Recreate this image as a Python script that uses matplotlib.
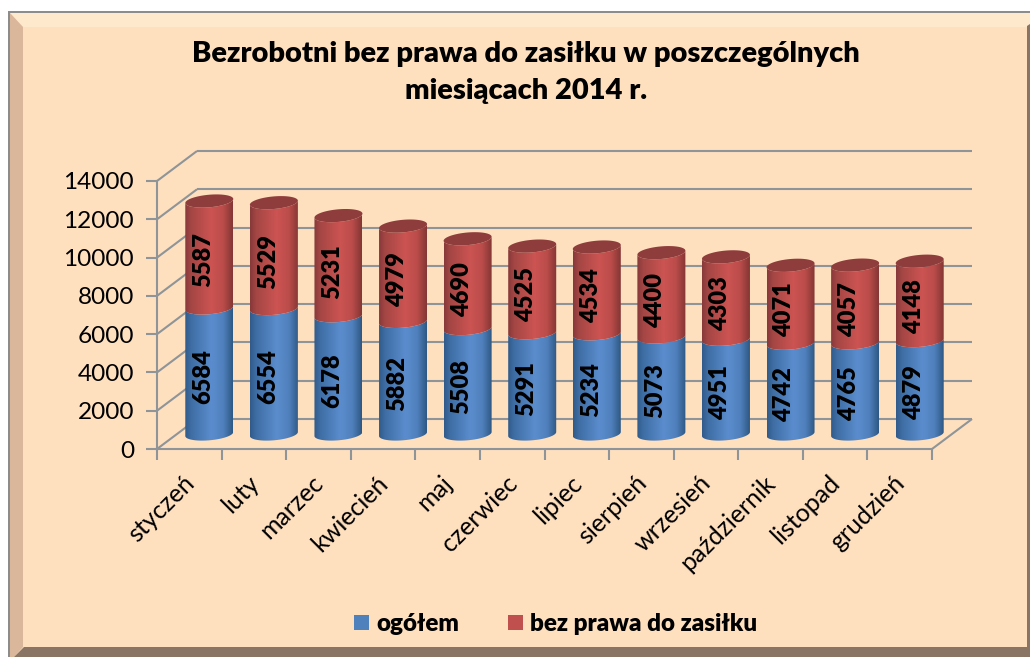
import numpy as np
import matplotlib
matplotlib.use("Agg")
import matplotlib.pyplot as plt
from matplotlib.colors import LinearSegmentedColormap
from matplotlib.patches import Polygon, Patch
from matplotlib.path import Path
from matplotlib.transforms import ScaledTranslation

months = ["styczeń", "luty", "marzec", "kwiecień", "maj", "czerwiec", "lipiec",
          "sierpień", "wrzesień", "październik", "listopad", "grudzień"]
total = [6584, 6554, 6178, 5882, 5508, 5291, 5234, 5073, 4951, 4742, 4765, 4879]
no_benefit = [5587, 5529, 5231, 4979, 4690, 4525, 4534, 4400, 4303, 4071, 4057, 4148]
yticks = [0, 2000, 4000, 6000, 8000, 10000, 12000, 14000]
series_names = ["ogółem", "bez prawa do zasiłku"]
title = "Bezrobotni bez prawa do zasiłku w poszczególnych\nmiesiącach 2014 r."

W, H = 1030, 657
BG = "#FEE0BF"
GRID = "#8E9498"
plt.rcParams["font.family"] = ["Lato", "DejaVu Sans"]

fig = plt.figure(figsize=(W / 100, H / 100), dpi=100, facecolor="white")


def fx(x):
    return x / W


def fy(y):
    return 1 - y / H


def fig_poly(points, color, z=0):
    fig.add_artist(Polygon([(fx(x), fy(y)) for x, y in points], closed=True, facecolor=color,
                           edgecolor="none", transform=fig.transFigure, zorder=z))


# outer frame
fig_poly([(8, 11), (1030, 11), (1030, 657), (8, 657)], "#8C8C8C", 0.1)
fig_poly([(10, 13), (1030, 13), (1030, 657), (10, 657)], BG, 0.2)
fig_poly([(1027, 26), (1030, 24), (1030, 657), (1027, 657)], "#8A7565", 0.4)
fig_poly([(14, 657), (24, 647), (1030, 647), (1030, 657)], "#8A7565", 0.4)
fig_poly([(10, 13), (1030, 13), (1030, 24), (1027, 27), (23, 27)], "#FFE9CC", 0.3)
fig_poly([(10, 13), (23, 27), (23, 647), (14, 657), (10, 657)], "#DAB79B", 0.3)

# plot axes = front plane of the 3D box
L, R, T, B = 157, 932, 181, 449
ax = fig.add_axes([fx(L), fy(B), fx(R - L), fy(T) - fy(B)], facecolor="none", zorder=1)
ax.set_autoscale_on(False)
ax.set_xlim(-0.5, 11.5)
ax.set_ylim(0, 14000)

px_x = (R - L) / 12
px_y = (B - T) / 14000
DX, DY = 40 / px_x, 30 / px_y        # depth of the box in data units

for s in ["top", "right"]:
    ax.spines[s].set_visible(False)
for s in ["left", "bottom"]:
    ax.spines[s].set_color(GRID)
    ax.spines[s].set_linewidth(1.5)

# walls
line_kw = dict(color=GRID, lw=1.5, clip_on=False, zorder=1, solid_capstyle="butt")
for v in yticks:
    ax.plot([-0.5, -0.5 + DX], [v, v + DY], **line_kw)
    ax.plot([-0.5 + DX, 11.5 + DX], [v + DY, v + DY], **line_kw)
ax.plot([11.5, 11.5 + DX], [0, DY], **line_kw)

# ticks
ax.set_yticks(yticks)
ax.tick_params(axis="y", length=8, width=1.5, color=GRID, labelsize=17.6, pad=8.5, labelcolor="black")
ax.set_xticks(np.arange(-0.5, 12, 1))
ax.set_xticklabels([])
ax.tick_params(axis="x", which="major", length=8, width=1.5, color=GRID)
ax.set_xticks(np.arange(12), minor=True)
ax.set_xticklabels(months, minor=True, rotation=45, ha="right", va="top", rotation_mode="anchor", fontsize=18)
ax.tick_params(axis="x", which="minor", length=0, pad=16)
shift = ScaledTranslation(-7 / 100, 0, fig.dpi_scale_trans)
for lab in ax.get_xticklabels(minor=True):
    lab.set_transform(lab.get_transform() + shift)

# cylinders
def gradient(stops):
    return LinearSegmentedColormap.from_list("c", stops)


blue_cm = gradient([(0, "#2F5A8A"), (0.12, "#3E6DA3"), (0.55, "#5B8DCE"), (0.8, "#5080BC"), (1, "#2E5883")])
red_cm = gradient([(0, "#86383A"), (0.12, "#A34644"), (0.55, "#CC5452"), (0.8, "#BA4C4A"), (1, "#833634")])
TOP_RED = "#8F3D3C"

BAR_A = 24 / px_x     # half width
BAR_B = 6.3 / px_y    # half height of ellipse
TILT = 2.0 / px_y     # right side of the ellipse rises
t_low = np.linspace(np.pi, 2 * np.pi, 60)
t_all = np.linspace(0, 2 * np.pi, 120)
grad = np.linspace(0, 1, 256).reshape(1, -1)


def arc(cx, cy, t):
    return cx + BAR_A * np.cos(t), cy + BAR_B * np.sin(t) + TILT * np.cos(t)


def body(cx, v0, v1, cmap):
    xa, ya = arc(cx, v0, t_low)
    xb, yb = arc(cx, v1, t_low[::-1])
    path = Path(np.column_stack([np.r_[xa, xb], np.r_[ya, yb]]))
    im = ax.imshow(grad, cmap=cmap, aspect="auto", zorder=2, interpolation="bilinear",
                   extent=(cx - BAR_A, cx + BAR_A, v0 - 2 * BAR_B, v1 + 2 * BAR_B))
    im.set_clip_box(fig.bbox)
    im.set_clip_path(path, transform=ax.transData)


label_kw = dict(rotation=90, ha="center", va="center", fontsize=17, fontweight="heavy", color="black",
                zorder=4, clip_on=False)
for i, (a, b) in enumerate(zip(total, no_benefit)):
    cx = i + DX / 2
    base = DY / 2
    body(cx, base, base + a, blue_cm)
    body(cx, base + a, base + a + b, red_cm)
    xt, yt = arc(cx, base + a + b, t_all)
    ax.fill(xt, yt, color=TOP_RED, zorder=3, clip_on=False, lw=0)
    ax.text(cx - 6 / px_x, base + a / 2 - 5.5 / px_y, str(a), **label_kw)
    ax.text(cx - 6 / px_x, base + a + b / 2 - 5.5 / px_y, str(b), **label_kw)

# title & legend
fig.text(fx(526), fy(72.5), title, ha="center", va="center", fontsize=20.9, fontweight="heavy",
         linespacing=1.5, zorder=5)
handles = [Patch(facecolor="#4F81BD", edgecolor="none"), Patch(facecolor="#C0504D", edgecolor="none")]
fig.legend(handles, series_names, loc="center", bbox_to_anchor=(fx(555.5), fy(624)), ncol=2, frameon=False,
           prop={"weight": "heavy", "size": 17.4}, handlelength=0.62, handleheight=0.62, handletextpad=0.3,
           columnspacing=2.0)

fig.savefig("out.png", dpi=100)
